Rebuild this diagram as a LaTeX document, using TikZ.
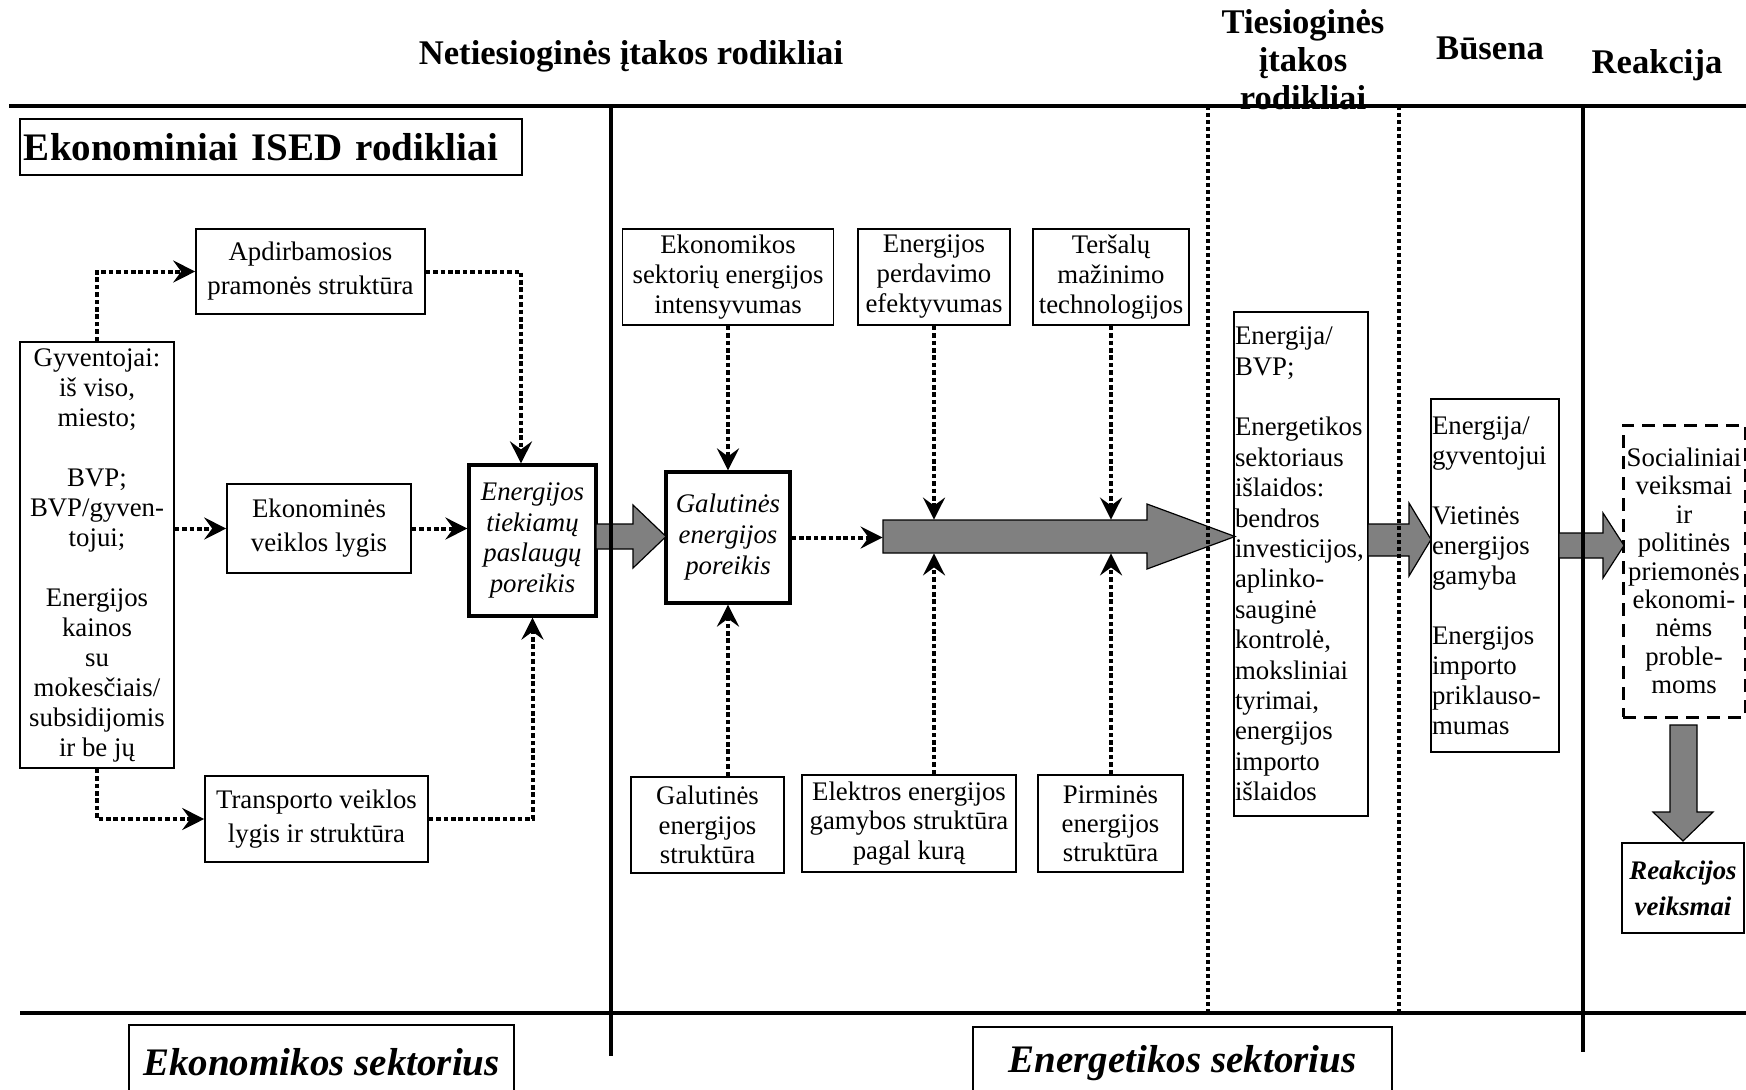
\documentclass[tikz,border=0pt]{standalone}
\usepackage{fontspec}
\setmainfont{Liberation Serif}
\usetikzlibrary{arrows.meta}
\definecolor{arrowgray}{RGB}{128,128,128}
\begin{document}
\begin{tikzpicture}[x=0.5pt,y=-0.5pt,
  box/.style={draw, line width=0.8pt, inner xsep=1pt, inner ysep=0pt, align=center,
    font=\fontsize{13.4}{15}\selectfont},
  twoline/.style={font=\fontsize{13.4}{17}\selectfont},
  thickbox/.style={box, line width=1.6pt, font=\fontsize{13.4}{15.3}\selectfont\itshape},
  dashbox/.style={box, dash pattern=on 6.5pt off 4pt, line width=1.5pt,
    font=\fontsize{13.4}{14.2}\selectfont},
  head/.style={font=\fontsize{17.3}{19}\selectfont\bfseries, align=center, inner sep=0pt},
  sectorbox/.style={draw, line width=0.8pt, font=\fontsize{19.5}{22}\selectfont\bfseries\itshape},
  dotarrow/.style={line width=2pt, dash pattern=on 2.3pt off 1.4pt,
    -{Stealth[length=11pt,width=11pt,inset=4pt]}},
  sectdot/.style={line width=2pt, dash pattern=on 2pt off 1.5pt},
  section/.style={line width=1.7pt},
  blockarrow/.style={fill=arrowgray, draw=black, line width=0.6pt},
]
\clip (0,0) rectangle (1746,1089);
\fill[white] (0,0) rectangle (1746,1089);

% economic sector boxes
\node[draw, line width=0.8pt, minimum width=251pt, minimum height=28pt, text width=247pt,
  inner xsep=2pt, align=left, font=\fontsize{19.5}{22}\selectfont\bfseries]
  (ised) at (271,147) {Ekonominiai ISED rodikliai};
\node[box, twoline, minimum width=114.5pt, minimum height=42.5pt] (apd) at (310.5,271.5)
  {Apdirbamosios\\pramonės struktūra};
\node[box, minimum width=77pt, minimum height=213pt] (gyv) at (97,555)
  {Gyventojai:\\iš viso,\\miesto;\\[15pt]BVP;\\BVP/gyven-\\tojui;\\[15pt]Energijos\\kainos\\su\\mokesčiais/\\subsidijomis\\ir be jų};
\node[box, twoline, minimum width=92pt, minimum height=44.5pt] (eko) at (319,528.5)
  {Ekonominės\\veiklos lygis};
\node[thickbox, minimum width=63.5pt, minimum height=75.5pt] (etp) at (532.5,540.5)
  {Energijos\\tiekiamų\\paslaugų\\poreikis};
\node[box, twoline, minimum width=111.5pt, minimum height=43pt] (tra) at (316.5,819)
  {Transporto veiklos\\lygis ir struktūra};

% energy sector boxes
\node[box, minimum width=105.5pt, minimum height=48pt] (eint) at (728,277)
  {Ekonomikos\\sektorių energijos\\intensyvumas};
\node[box, minimum width=76pt, minimum height=48pt] (perd) at (934,277)
  {Energijos\\perdavimo\\efektyvumas};
\node[box, minimum width=78pt, minimum height=48pt] (ters) at (1111,277)
  {Teršalų\\mažinimo\\technologijos};
\node[thickbox, font=\fontsize{13.4}{15.5}\selectfont\itshape, minimum width=62pt, minimum height=65.5pt]
  (gal) at (728,537.5) {Galutinės\\energijos\\poreikis};
\node[box, font=\fontsize{13.4}{14.6}\selectfont, minimum width=76.5pt, minimum height=48pt] (gstr) at (707.5,825)
  {Galutinės\\energijos\\struktūra};
\node[box, font=\fontsize{13.4}{14.7}\selectfont, minimum width=107pt, minimum height=48.5pt] (elek) at (909,823.5)
  {Elektros energijos\\gamybos struktūra\\pagal kurą};
\node[box, font=\fontsize{13.4}{14.6}\selectfont, minimum width=72.5pt, minimum height=48.5pt] (pirm) at (1110.5,823.5)
  {Pirminės\\energijos\\struktūra};

% direct indicators, state and reaction
\node[box, font=\fontsize{13.4}{15.2}\selectfont, align=left, inner xsep=0.5pt, text width=66pt,
  minimum width=67pt, minimum height=252pt] (bvp) at (1301,564)
  {Energija/\\BVP;\\[15.2pt]Energetikos\\sektoriaus\\išlaidos:\\bendros\\investicijos,\\aplinko-\\sauginė\\kontrolė,\\moksliniai\\tyrimai,\\energijos\\importo\\išlaidos};
\node[box, align=left, inner xsep=0.5pt, text width=63pt,
  minimum width=64pt, minimum height=176.5pt] (gyvI) at (1495,575.5)
  {Energija/\\gyventojui\\[15pt]Vietinės\\energijos\\gamyba\\[15pt]Energijos\\importo\\priklauso-\\mumas};
\node[dashbox, minimum width=61pt, minimum height=146pt] (soc) at (1684,571)
  {Socialiniai\\veiksmai\\ir\\politinės\\priemonės\\ekonomi-\\nėms\\proble-\\moms};
\node[box, font=\fontsize{13.4}{18}\selectfont\bfseries\itshape, minimum width=61pt, minimum height=45pt]
  (reak) at (1683,888) {Reakcijos\\veiksmai};

% sector captions
\node[sectorbox, minimum width=192.5pt, minimum height=37.5pt] (ecoSec) at (321.5,1062.5)
  {Ekonomikos sektorius};
\node[sectorbox, minimum width=209.5pt, minimum height=36.5pt] (enSec) at (1182.5,1063.5)
  {Energetikos sektorius};

% block arrows
\draw[blockarrow] (596,524) -- (633,524) -- (633,505) -- (666,536.5) -- (633,568) -- (633,549) -- (596,549) -- cycle;
\draw[blockarrow] (883,520) -- (1147,520) -- (1147,504) -- (1235,536.5) -- (1147,569) -- (1147,553) -- (883,553) -- cycle;
\node[minimum width=132pt, minimum height=16.5pt, inner sep=0pt] (bigshaft) at (1015,536.5) {};
\draw[blockarrow] (1368,524) -- (1409,524) -- (1409,503) -- (1431,539.5) -- (1409,576) -- (1409,556) -- (1368,556) -- cycle;
\draw[blockarrow] (1559,533) -- (1603,533) -- (1603,513) -- (1624,545.5) -- (1603,578) -- (1603,558) -- (1559,558) -- cycle;
\draw[blockarrow] (1670,725) -- (1697,725) -- (1697,812) -- (1713,812) -- (1683,841) -- (1653,812) -- (1670,812) -- cycle;

% dotted influence connectors
\draw[dotarrow] (gyv.north) |- (apd.west);
\draw[dotarrow] (gyv.south) |- (tra.west);
\draw[dotarrow] (gyv.east |- eko.west) -- (eko.west);
\draw[dotarrow] (eko.east) -- (eko.east -| etp.west);
\draw[dotarrow] (apd.east) -| ([xshift=-5.75pt]etp.north);
\draw[dotarrow] (tra.east) -| (etp.south);
\draw[dotarrow] (eint.south) -- (gal.north);
\draw[dotarrow] (gal.south |- gstr.north) -- (gal.south);
\draw[dotarrow] (gal.east) -- (gal.east -| bigshaft.west);
\draw[dotarrow] (perd.south) -- (perd.south |- bigshaft.north);
\draw[dotarrow] (ters.south) -- (ters.south |- bigshaft.north);
\draw[dotarrow] (perd.south |- elek.north) -- (perd.south |- bigshaft.south);
\draw[dotarrow] (ters.south |- pirm.north) -- (ters.south |- bigshaft.south);

% section borders
\draw[section] (9,106) -- (1746,106);
\draw[section] (20,1013) -- (1746,1013);
\draw[section] (611,106) -- (611,1056);
\draw[section] (1583,106) -- (1583,1052);
\draw[sectdot] (1208,106) -- (1208,1013);
\draw[sectdot] (1399,106) -- (1399,1013);

% column headings
\node[head] (hInd) at (631,56) {Netiesioginės įtakos rodikliai};
\node[head] (hDir) at (1303,60) {Tiesioginės\\įtakos\\rodikliai};
\node[head] (hState) at (1490,48) {Būsena};
\node[head] (hReact) at (1657,65) {Reakcija};
\end{tikzpicture}
\end{document}
